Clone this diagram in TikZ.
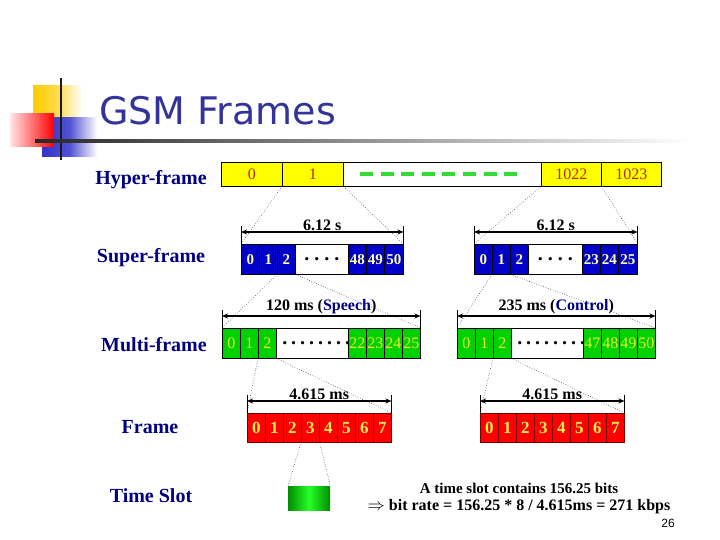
\documentclass[tikz,border=0pt]{standalone}
\usepackage{fontspec}
\setmainfont{Liberation Serif}
\newfontfamily\titlefont{DejaVu Sans}
\newfontfamily\numfont{Liberation Sans}
\usetikzlibrary{arrows.meta,calc}
\definecolor{navyblue}{RGB}{0,0,128}
\definecolor{titleblue}{RGB}{51,51,153}
\definecolor{hyperfill}{RGB}{255,255,0}
\definecolor{hypertext}{RGB}{180,40,0}
\definecolor{superfill}{RGB}{0,0,200}
\definecolor{supertext}{RGB}{255,255,160}
\definecolor{multifill}{RGB}{0,210,0}
\definecolor{multitext}{RGB}{235,235,40}
\definecolor{framefill}{RGB}{255,0,0}
\definecolor{frametext}{RGB}{255,240,80}
\definecolor{dashgreen}{RGB}{50,220,50}
\definecolor{goldy}{RGB}{255,204,0}
\definecolor{decoblue}{RGB}{51,51,204}
\tikzset{
  lab/.style={text=navyblue,font=\fontsize{20}{24}\selectfont\bfseries},
  cellbox/.style={draw=black,line width=0.5pt,inner sep=0pt,anchor=north west,minimum width=18pt},
  hcell/.style={cellbox,fill=hyperfill,minimum height=24pt,text=hypertext,font=\fontsize{16}{18}\selectfont},
  scell/.style={cellbox,fill=superfill,minimum height=30pt,text=supertext,font=\fontsize{15}{17}\selectfont\bfseries},
  mcell/.style={cellbox,fill=multifill,minimum height=30pt,text=multitext,font=\fontsize{16}{18}\selectfont},
  fcell/.style={cellbox,draw={rgb,255:red,120;green,0;blue,0},fill=framefill,minimum height=29pt,text=frametext,font=\fontsize{17}{19}\selectfont\bfseries},
  wcell/.style={cellbox,fill=white,text=black,font=\fontsize{20}{22}\selectfont\bfseries},
  conn/.style={dotted,line width=0.5pt},
  dimarrow/.style={line width=1.4pt,{Stealth[length=6pt,width=5pt]}-{Stealth[length=6pt,width=5pt]}},
  dimtick/.style={line width=0.5pt},
  dimlab/.style={font=\fontsize{16}{18}\selectfont\bfseries,inner sep=1pt,anchor=south},
}
\newcommand\dotsfour{.\kern5pt.\kern5pt.\kern5pt.}
\newcommand\dotseight{.\kern4pt.\kern4pt.\kern4pt.\kern4pt.\kern4pt.\kern4pt.\kern4pt.}
\begin{document}
\begin{tikzpicture}[x=1pt,y=-1pt]
\useasboundingbox (0,0) rectangle (720,540);
\fill[white] (0,0) rectangle (720,540);
% ---- title decoration ----
\shade[left color=goldy,right color=white,middle color=goldy!70!white] (33,86) rectangle (82,118);
\shade[left color=decoblue,right color=white,middle color=decoblue!85!white] (42,118) rectangle (97,157);
\shade[left color=red!10!white,right color=red] (10,114) rectangle (54,147);
\draw[line width=2.5pt,black!90] (61,78) -- (61,160);
\shade[left color=black!85,right color=white] (35,139.5) rectangle (690,142.5);
\node[anchor=base west,inner sep=0pt,text=titleblue,font=\titlefont\fontsize{38}{44}\selectfont] (title) at (99,125) {GSM Frames};
% ---- row labels ----
\node[lab] (lhyper) at (151,180) {Hyper-frame};
\node[lab] (lsuper) at (151,258) {Super-frame};
\node[lab] (lmulti) at (154,345) {Multi-frame};
\node[lab] (lframe) at (150,427) {Frame};
\node[lab] (lslot) at (151,496) {Time Slot};
% ---- hyper-frame ----
\node[hcell,minimum width=61pt] (h0) at (221,162) {0};
\node[hcell,minimum width=61pt] (h1) at (282,162) {1};
\node[cellbox,fill=white,minimum width=198pt,minimum height=24pt] (hd) at (343,162) {};
\node[hcell,minimum width=60pt] (h1022) at (541,162) {1022};
\node[hcell,minimum width=60pt] (h1023) at (601,162) {1023};
\draw[dashgreen,line width=3.5pt,dash pattern=on 13pt off 7.6pt] (360,174) -- (518,174);
% ---- super-frames ----
\node[scell] (sL0) at (241,244) {0};
\node[scell] (sL1) at (259,244) {1};
\node[scell] (sL2) at (277,244) {2};
\node[wcell,minimum width=53pt,minimum height=30pt] (sLd) at (295,244) {\dotsfour};
\node[scell] (sL48) at (348,244) {48};
\node[scell] (sL49) at (366,244) {49};
\node[scell,minimum width=19pt] (sL50) at (384,244) {50};
\node[scell] (sR0) at (474,244) {0};
\node[scell] (sR1) at (492,244) {1};
\node[scell] (sR2) at (510,244) {2};
\node[wcell,minimum width=54pt,minimum height=30pt] (sRd) at (528,244) {\dotsfour};
\node[scell] (sR23) at (582,244) {23};
\node[scell] (sR24) at (600,244) {24};
\node[scell,minimum width=19pt] (sR25) at (618,244) {25};
% ---- multi-frames ----
\node[mcell] (mL0) at (222,328) {0};
\node[mcell] (mL1) at (240,328) {1};
\node[mcell] (mL2) at (258,328) {2};
\node[wcell,minimum width=72pt,minimum height=30pt] (mLd) at (276,328) {\kern6pt\dotseight};
\node[mcell] (mL22) at (348,328) {22};
\node[mcell] (mL23) at (366,328) {23};
\node[mcell] (mL24) at (384,328) {24};
\node[mcell] (mL25) at (402,328) {25};
\node[mcell] (mR0) at (457,328) {0};
\node[mcell] (mR1) at (475,328) {1};
\node[mcell] (mR2) at (493,328) {2};
\node[wcell,minimum width=72pt,minimum height=30pt] (mRd) at (511,328) {\kern6pt\dotseight};
\node[mcell] (mR47) at (583,328) {47};
\node[mcell] (mR48) at (601,328) {48};
\node[mcell] (mR49) at (619,328) {49};
\node[mcell] (mR50) at (637,328) {50};
% ---- frames ----
\foreach \i in {0,...,7} {
  \node[fcell] (fL\i) at ({247+18*\i},413) {\i};
  \node[fcell] (fR\i) at ({480+18*\i},413) {\i};
}
% ---- time slot ----
\shade[left color={rgb,255:red,0;green,140;blue,0},right color={rgb,255:red,0;green,140;blue,0},middle color={rgb,255:red,40;green,255;blue,40}] (288,486) rectangle (330,510);
\node[draw=none,inner sep=0pt,anchor=north west,minimum width=42pt,minimum height=24pt] (ts) at (288,486) {};
% ---- dimension arrows ----
\foreach \a/\b/\t in {sL0/sL50/{6.12 s},sR0/sR25/{6.12 s},mL0/mL25/{120 ms (\textcolor{navyblue}{Speech})},mR0/mR50/{235 ms (\textcolor{navyblue}{Control})},fL0/fL7/{4.615 ms},fR0/fR7/{4.615 ms}} {
  \draw[dimtick] (\a.north west) -- ([yshift=18pt]\a.north west);
  \draw[dimtick] (\b.north east) -- ([yshift=18pt]\b.north east);
  \draw[dimarrow] ([yshift=12pt]\a.north west) -- node[dimlab] {\t} ([yshift=12pt]\b.north east);
}
% ---- connectors ----
\draw[conn] (h1.south west) -- (sL0.north west);
\draw[conn] (h1.south east) -- (sL50.north east);
\draw[conn] (h1022.south west) -- (sR0.north west);
\draw[conn] (h1022.south east) -- (sR25.north east);
\draw[conn] (sL2.south west) -- (mL0.north west);
\draw[conn] (sL2.south east) -- (mL25.north east);
\draw[conn] (sR1.south west) -- (mR0.north west);
\draw[conn] (sR1.south east) -- (mR50.north east);
\draw[conn] (mL2.south west) -- (fL0.north west);
\draw[conn] (mL2.south east) -- (fL7.north east);
\draw[conn] (mR2.south west) -- (fR0.north west);
\draw[conn] (mR2.south east) -- (fR7.north east);
\draw[conn] (fL3.south west) -- (ts.north west);
\draw[conn] (fL3.south east) -- (ts.north east);
% ---- text ----
\node[font=\fontsize{15}{18}\selectfont\bfseries] (note1) at (519,488) {A time slot contains 156.25 bits};
\node[font=\fontsize{16}{18}\selectfont\bfseries] (note2) at (519,507) {$\Rightarrow$ bit rate = 156.25 * 8 / 4.615ms = 271 kbps};
\node[font=\numfont\fontsize{12}{14}\selectfont] (pnum) at (668,523) {26};
\end{tikzpicture}
\end{document}
